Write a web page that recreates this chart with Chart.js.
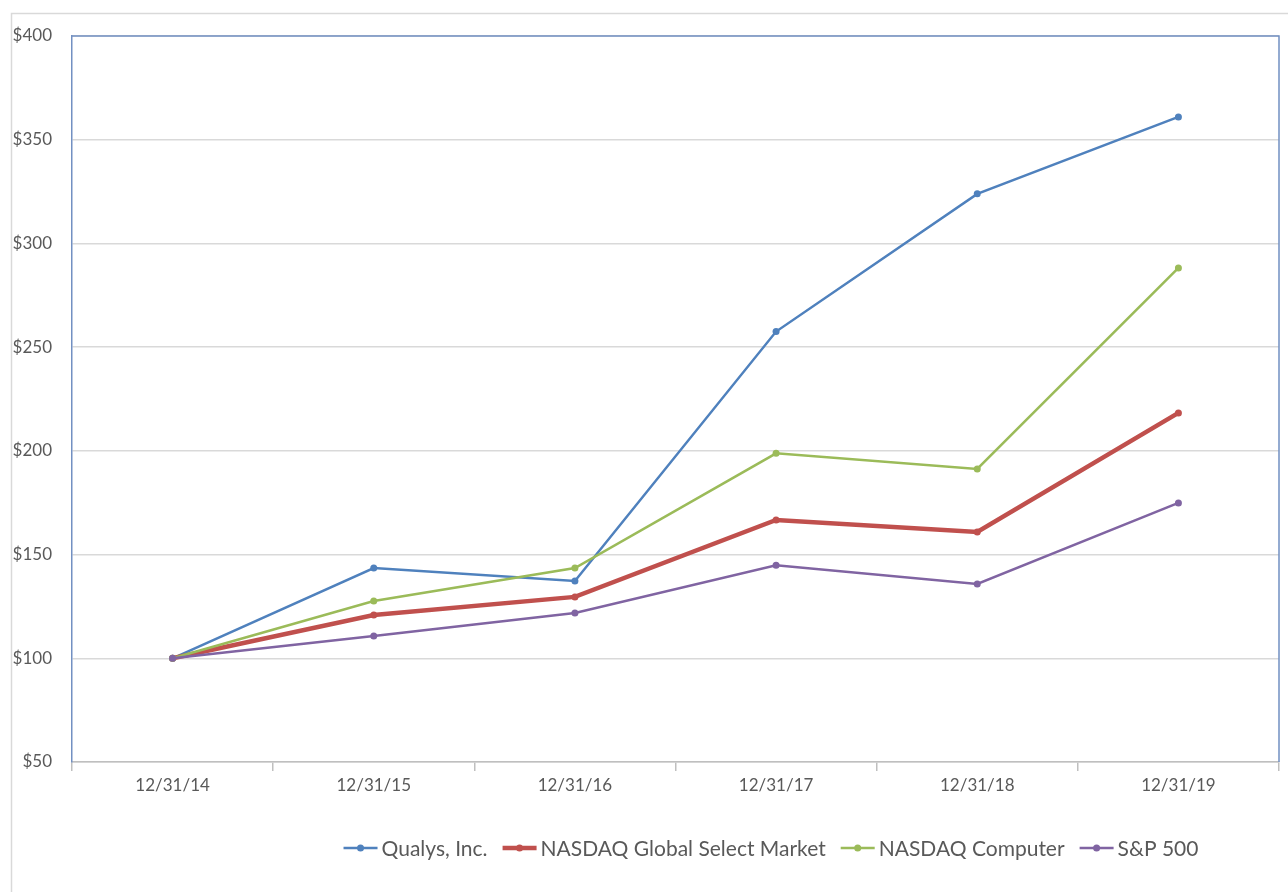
<!DOCTYPE html>
<html>
<head>
<meta charset="utf-8">
<script src="https://cdn.jsdelivr.net/npm/chart.js@4"></script>
<style>
html,body{margin:0;padding:0;background:#fff;}
#wrap{position:relative;width:1288px;height:892px;}
</style>
</head>
<body>
<div id="wrap"><canvas id="c"></canvas></div>
<script>
const categories = ['12/31/14','12/31/15','12/31/16','12/31/17','12/31/18','12/31/19'];
const qualys = [100, 143.5, 137.3, 257.5, 323.9, 361.0];
const nasdaqGSM = [100, 120.9, 129.6, 166.7, 160.9, 218.3];
const nasdaqComputer = [100, 127.6, 143.5, 198.8, 191.3, 288.2];
const sp500 = [100, 110.8, 121.8, 144.8, 135.8, 174.9];
const seriesNames = ['Qualys, Inc.', 'NASDAQ Global Select Market', 'NASDAQ Computer', 'S&P 500'];
const yTicks = [50, 100, 150, 200, 250, 300, 350, 400];

const FONT = 'Lato, "Open Sans", sans-serif';
const TXT = '#595959';

const frame = {
  id: 'frame',
  beforeDraw(chart) {
    const ctx = chart.ctx;
    ctx.save();
    ctx.strokeStyle = '#D9D9D9';
    ctx.lineWidth = 1.5;
    ctx.strokeRect(11.5, 13.5, 1400, 1000);
    ctx.restore();
  },
  afterDraw(chart) {
    const ctx = chart.ctx, a = chart.chartArea;
    ctx.save();
    ctx.strokeStyle = '#7290C2';
    ctx.lineWidth = 1.5;
    ctx.beginPath();
    ctx.moveTo(a.left, a.top);
    ctx.lineTo(a.right, a.top);
    ctx.lineTo(a.right, a.bottom);
    ctx.stroke();
    // legend
    const items = chart.data.datasets.map(d => ({label: d.label, color: d.borderColor, w: d.borderWidth}));
    ctx.font = '21px ' + FONT;
    const mark = 34, gap = 4, sep = 15;
    let total = 0;
    items.forEach((it, i) => { it.tw = ctx.measureText(it.label).width; total += mark + gap + it.tw + (i < items.length - 1 ? sep : 0); });
    let x = 771 - total / 2;
    const y = 848;
    ctx.textBaseline = 'middle';
    items.forEach(it => {
      ctx.strokeStyle = it.color;
      ctx.lineWidth = it.w;
      ctx.beginPath(); ctx.moveTo(x, y); ctx.lineTo(x + mark, y); ctx.stroke();
      ctx.fillStyle = it.color;
      ctx.beginPath(); ctx.arc(x + mark / 2, y, 3.5, 0, Math.PI * 2); ctx.fill();
      ctx.fillStyle = TXT;
      ctx.fillText(it.label, x + mark + gap, y + 1);
      x += mark + gap + it.tw + sep;
    });
    ctx.restore();
  }
};

function ds(label, data, color, width, order) {
  return {label, data, borderColor: color, backgroundColor: color, borderWidth: width,
    pointRadius: 3.5, pointBackgroundColor: color, pointBorderWidth: 0, pointHoverRadius: 3.5,
    tension: 0, order};
}

new Chart(document.getElementById('c'), {
  type: 'line',
  data: {
    labels: categories,
    datasets: [
      ds(seriesNames[0], qualys, '#4F81BD', 2.5, 4),
      ds(seriesNames[1], nasdaqGSM, '#C0504D', 4.5, 3),
      ds(seriesNames[2], nasdaqComputer, '#9BBB59', 2.5, 2),
      ds(seriesNames[3], sp500, '#8064A2', 2.5, 1)
    ]
  },
  options: {
    responsive: true,
    maintainAspectRatio: false,
    animation: false,
    layout: {padding: {top: 36, right: 9, left: 0, bottom: 0}},
    plugins: {legend: {display: false}, tooltip: {enabled: false}},
    scales: {
      x: {
        offset: true,
        grid: {display: true, drawOnChartArea: false, offset: true, tickLength: 9, color: '#BFBFBF', lineWidth: 1.5},
        border: {color: '#BFBFBF', width: 1.5},
        ticks: {color: TXT, font: {family: FONT, size: 17}, padding: 4, maxRotation: 0},
        afterFit(s) { s.height = 130; }
      },
      y: {
        min: 50, max: 400,
        afterBuildTicks(s) { s.ticks = yTicks.map(v => ({value: v})); },
        grid: {color: '#D9D9D9', lineWidth: 1.5, drawTicks: false},
        border: {color: '#7290C2', width: 1.5},
        ticks: {color: TXT, font: {family: FONT, size: 17}, padding: 20, callback: v => '$' + v},
        afterFit(s) { s.width = 72; }
      }
    }
  },
  plugins: [frame]
});
</script>
</body>
</html>
